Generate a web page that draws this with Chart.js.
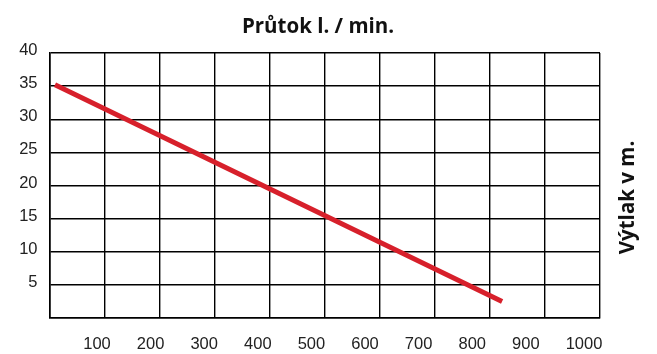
<!DOCTYPE html>
<html>
<head>
<meta charset="utf-8">
<script src="https://cdn.jsdelivr.net/npm/chart.js@4/dist/chart.umd.min.js"></script>
<style>
  html, body { margin: 0; padding: 0; background: #fff; }
  #wrap { width: 657px; height: 354px; }
</style>
</head>
<body>
<div id="wrap"><canvas id="flow-chart"></canvas></div>
<script>
// flow (l/min) vs head (m)
const flowValues = [9, 822];
const headValues = [35.2, 2.5];
const xTicks = [0, 100, 200, 300, 400, 500, 600, 700, 800, 900, 1000];
const xLabels = [100, 200, 300, 400, 500, 600, 700, 800, 900, 1000];
const yTicks = [0, 5, 10, 15, 20, 25, 30, 35, 40];
const topTitle = "Průtok l. / min.";
const sideTitle = "Výtlak v m.";

const titlesPlugin = {
  id: "titles",
  afterDraw(chart) {
    const c = chart.ctx;
    const area = chart.chartArea;
    c.save();
    c.fillStyle = "#111";
    c.font = "bold 20.5px 'Open Sans'";
    c.textAlign = "center";
    c.textBaseline = "middle";
    c.fillText(topTitle, 318, 27);
    c.translate(628, (area.top + area.bottom) / 2 + 12);
    c.rotate(-Math.PI / 2);
    c.fillText(sideTitle, 0, 0);
    c.restore();
  },
};

const tickFont = { family: "'Liberation Sans'", size: 16.5 };

const ctx = document.getElementById("flow-chart").getContext("2d");
new Chart(ctx, {
  type: "line",
  data: {
    datasets: [
      {
        data: flowValues.map((x, i) => ({ x: x, y: headValues[i] })),
        borderColor: "#d7202b",
        borderWidth: 5,
        pointRadius: 0,
        borderCapStyle: "butt",
        fill: false,
      },
    ],
  },
  options: {
    responsive: true,
    maintainAspectRatio: false,
    animation: false,
    layout: { padding: { top: 53, right: 57, left: 0, bottom: 0 } },
    plugins: {
      legend: { display: false },
      tooltip: { enabled: false },
    },
    scales: {
      x: {
        type: "linear",
        position: "bottom",
        min: xTicks[0],
        max: xTicks[xTicks.length - 1],
        afterBuildTicks(axis) {
          axis.ticks = xTicks.map((v) => ({ value: v }));
        },
        afterFit(axis) {
          axis.height = 0;
        },
        grid: { color: "#000", lineWidth: 1.4, drawTicks: false },
        border: { color: "#000", width: 1.6 },
        ticks: { display: false },
      },
      // label row: the printed labels sit on a slightly tighter pitch than the grid
      xLabels: {
        type: "linear",
        position: "bottom",
        min: 38,
        max: 1064,
        afterBuildTicks(axis) {
          axis.ticks = xLabels.map((v) => ({ value: v }));
        },
        afterFit(axis) {
          axis.height = 36;
        },
        grid: { display: false },
        border: { display: false },
        ticks: {
          color: "#222",
          font: tickFont,
          padding: 9,
          align: "start",
          maxRotation: 0,
          autoSkip: false,
          callback: (v) => String(v),
        },
      },
      y: {
        min: yTicks[0],
        max: yTicks[yTicks.length - 1],
        afterBuildTicks(axis) {
          axis.ticks = yTicks.map((v) => ({ value: v }));
        },
        afterFit(axis) {
          axis.width = 50;
        },
        grid: { color: "#000", lineWidth: 1.4, drawTicks: false },
        border: { color: "#000", width: 1.6 },
        ticks: {
          color: "#222",
          font: tickFont,
          padding: 12.5,
          labelOffset: -2.5,
          callback: (v) => (v === 0 ? "" : String(v)),
        },
      },
    },
  },
  plugins: [titlesPlugin],
});
</script>
</body>
</html>
